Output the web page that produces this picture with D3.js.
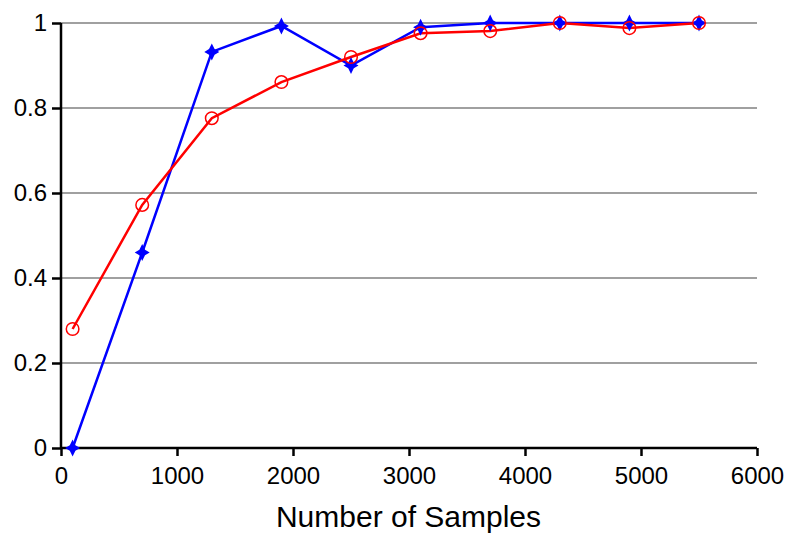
<!DOCTYPE html>
<html>
<head>
<meta charset="utf-8">
<script src="https://cdn.jsdelivr.net/npm/d3@7"></script>
<style>
  body { margin: 0; background: #fff; }
  text { font-family: "Liberation Sans", Arial, sans-serif; }
</style>
</head>
<body>
<script>
var svgWidth = 788;
var svgHeight = 534;

var samples = [100, 700, 1300, 1900, 2500, 3100, 3700, 4300, 4900, 5500];
var blueVals = [0, 0.46, 0.932, 0.993, 0.9, 0.99, 1.0, 1.0, 1.0, 1.0];
var redVals = [0.28, 0.572, 0.776, 0.861, 0.92, 0.976, 0.981, 1.0, 0.988, 1.0];
var xTicks = [0, 1000, 2000, 3000, 4000, 5000, 6000];
var yTicks = [0, 0.2, 0.4, 0.6, 0.8, 1];

var svg = d3.select('body').append('svg')
  .attr('width', svgWidth)
  .attr('height', svgHeight);

var x = d3.scaleLinear().domain([0, 6000]).range([61, 757]);
var y = d3.scaleLinear().domain([0, 1]).range([448, 23]);

// gridlines
svg.selectAll('.grid').data(yTicks.filter(function(d){ return d > 0; }))
  .enter().append('line')
  .attr('x1', x(0)).attr('x2', x(6000))
  .attr('y1', function(d){ return y(d); })
  .attr('y2', function(d){ return y(d); })
  .attr('stroke', '#a0a0a0')
  .attr('stroke-width', 2);

// axes
var xAxis = svg.append('g').attr('transform', 'translate(0,' + y(0) + ')')
  .call(d3.axisBottom(x).tickValues(xTicks).tickSize(8).tickPadding(11).tickFormat(d3.format('d')));
var yAxis = svg.append('g').attr('transform', 'translate(' + x(0) + ',0)')
  .call(d3.axisLeft(y).tickValues(yTicks).tickSize(9).tickPadding(5).tickFormat(function(d){ return d === 0 || d === 1 ? d3.format('d')(d) : d3.format('.1f')(d); }));

[xAxis, yAxis].forEach(function(a){
  a.attr('font-size', 24).attr('font-family', null);
  a.select('.domain').attr('stroke', '#000').attr('stroke-width', 2.5);
  a.selectAll('.tick line').attr('stroke', '#000').attr('stroke-width', 2.5);
  a.selectAll('.tick text').attr('fill', '#000');
});
xAxis.select('.domain').attr('d', 'M' + x(0) + ',0H' + x(6000));
yAxis.select('.domain').attr('d', 'M0,' + y(0) + 'V' + y(1));

svg.append('text')
  .attr('x', 408.5).attr('y', 527)
  .attr('text-anchor', 'middle')
  .style('font-size', '30px')
  .text('Number of Samples');

var line = d3.line()
  .x(function(d, i){ return x(samples[i]); })
  .y(function(d){ return y(d); });

svg.append('path').datum(blueVals)
  .attr('d', line)
  .attr('fill', 'none')
  .attr('stroke', '#0000ff')
  .attr('stroke-width', 2.5);

svg.append('path').datum(redVals)
  .attr('d', line)
  .attr('fill', 'none')
  .attr('stroke', '#ff0000')
  .attr('stroke-width', 2.5);

// blue 4-point star markers
var star = 'M0,-8.5L2.8,-2.8L7.5,0L2.8,2.8L0,8.5L-2.8,2.8L-7.5,0L-2.8,-2.8Z';
svg.selectAll('.bm').data(blueVals)
  .enter().append('path')
  .attr('d', star)
  .attr('transform', function(d, i){ return 'translate(' + x(samples[i]) + ',' + y(d) + ')'; })
  .attr('fill', '#0000ff');

// red open circles
svg.selectAll('.rm').data(redVals)
  .enter().append('circle')
  .attr('cx', function(d, i){ return x(samples[i]); })
  .attr('cy', function(d){ return y(d); })
  .attr('r', 6.3)
  .attr('fill', 'none')
  .attr('stroke', '#ff0000')
  .attr('stroke-width', 1.5);
</script>
</body>
</html>
